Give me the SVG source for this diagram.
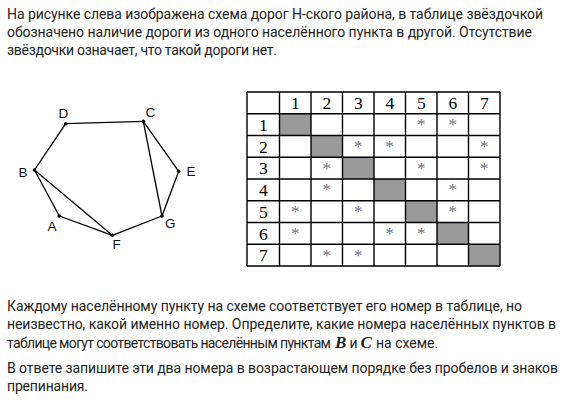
<svg xmlns="http://www.w3.org/2000/svg" width="564" height="408" viewBox="0 0 564 408">
<style>
.t{font-family:Roboto,"Noto Sans",sans-serif;font-size:14px;fill:#222}
.bi{font-family:"Liberation Serif",serif;font-size:17px;font-weight:bold;font-style:italic;fill:#222}
.lbl{font-family:"Liberation Sans",Arial,sans-serif;font-size:13.5px;fill:#111}
.edge{stroke:#000;stroke-width:1.3;fill:none}
.pt{fill:#000}
.grid{stroke:#000;stroke-width:1.4;fill:none}
.num{font-family:"Liberation Serif",serif;font-size:17.5px;fill:#000;text-anchor:middle}
.st{font-family:"Liberation Serif",serif;font-size:17px;fill:#707088;text-anchor:middle}
.g{fill:#999}
</style>
<rect width="564" height="408" fill="#fff"/>
<g id="intro">
<text class="t" x="7" y="19" textLength="536">На рисунке слева изображена схема дорог Н-ского района, в таблице звёздочкой</text>
<text class="t" x="7" y="37" textLength="525">обозначено наличие дороги из одного населённого пункта в другой. Отсутствие</text>
<text class="t" x="7" y="55" textLength="270">звёздочки означает, что такой дороги нет.</text>
</g>
<g id="connectors">
<line class="edge" x1="65.7" y1="123.7" x2="143.3" y2="121.3"/>
<line class="edge" x1="65.7" y1="123.7" x2="34.5" y2="170"/>
<line class="edge" x1="34.5" y1="170" x2="59.3" y2="216"/>
<line class="edge" x1="34.5" y1="170" x2="112.3" y2="235.3"/>
<line class="edge" x1="59.3" y1="216" x2="112.3" y2="235.3"/>
<line class="edge" x1="112.3" y1="235.3" x2="162" y2="216"/>
<line class="edge" x1="162" y1="216" x2="178.7" y2="171.3"/>
<line class="edge" x1="178.7" y1="171.3" x2="143.3" y2="121.3"/>
<line class="edge" x1="143.3" y1="121.3" x2="162" y2="216"/>
</g>
<g id="node-D"><circle class="pt" cx="65.7" cy="123.7" r="1.8"/><text class="lbl" x="58.5" y="118">D</text></g>
<g id="node-C"><circle class="pt" cx="143.3" cy="121.3" r="1.8"/><text class="lbl" x="145.5" y="117">C</text></g>
<g id="node-B"><circle class="pt" cx="34.5" cy="170" r="1.8"/><text class="lbl" x="18.5" y="176.5">B</text></g>
<g id="node-E"><circle class="pt" cx="178.7" cy="171.3" r="1.8"/><text class="lbl" x="186.5" y="175.5">E</text></g>
<g id="node-A"><circle class="pt" cx="59.3" cy="216" r="1.8"/><text class="lbl" x="47.5" y="230.5">A</text></g>
<g id="node-G"><circle class="pt" cx="162" cy="216" r="1.8"/><text class="lbl" x="165" y="228">G</text></g>
<g id="node-F"><circle class="pt" cx="112.3" cy="235.3" r="1.8"/><text class="lbl" x="112.5" y="248.5">F</text></g>
<g id="table">
<rect class="g" x="279.5" y="113.75" width="31.5" height="21.75"/>
<rect class="g" x="311" y="135.5" width="31.5" height="21.75"/>
<rect class="g" x="342.5" y="157.25" width="31.5" height="21.75"/>
<rect class="g" x="374" y="179" width="31.5" height="21.75"/>
<rect class="g" x="405.5" y="200.75" width="31.5" height="21.75"/>
<rect class="g" x="437" y="222.5" width="31.5" height="21.75"/>
<rect class="g" x="468.5" y="244.25" width="31.5" height="21.75"/>
<path class="grid" d="M247 92V266M279.5 92V266M311 92V266M342.5 92V266M374 92V266M405.5 92V266M437 92V266M468.5 92V266M500 92V266M247 92H500M247 113.75H500M247 135.5H500M247 157.25H500M247 179H500M247 200.75H500M247 222.5H500M247 244.25H500M247 266H500"/>
<text class="num" x="295.25" y="109.3">1</text>
<text class="num" x="326.75" y="109.3">2</text>
<text class="num" x="358.25" y="109.3">3</text>
<text class="num" x="389.75" y="109.3">4</text>
<text class="num" x="421.25" y="109.3">5</text>
<text class="num" x="452.75" y="109.3">6</text>
<text class="num" x="484.25" y="109.3">7</text>
<text class="num" x="263.25" y="130.8">1</text>
<text class="num" x="263.25" y="152.5">2</text>
<text class="num" x="263.25" y="174.3">3</text>
<text class="num" x="263.25" y="196">4</text>
<text class="num" x="263.25" y="217.8">5</text>
<text class="num" x="263.25" y="239.5">6</text>
<text class="num" x="263.25" y="261.3">7</text>
<text class="st" x="421.25" y="130">*</text>
<text class="st" x="452.75" y="130">*</text>
<text class="st" x="358.25" y="151.75">*</text>
<text class="st" x="389.75" y="151.75">*</text>
<text class="st" x="484.25" y="151.75">*</text>
<text class="st" x="326.75" y="173.5">*</text>
<text class="st" x="421.25" y="173.5">*</text>
<text class="st" x="484.25" y="173.5">*</text>
<text class="st" x="326.75" y="195.25">*</text>
<text class="st" x="452.75" y="195.25">*</text>
<text class="st" x="295.25" y="217">*</text>
<text class="st" x="358.25" y="217">*</text>
<text class="st" x="452.75" y="217">*</text>
<text class="st" x="295.25" y="238.75">*</text>
<text class="st" x="389.75" y="238.75">*</text>
<text class="st" x="421.25" y="238.75">*</text>
<text class="st" x="326.75" y="260.5">*</text>
<text class="st" x="358.25" y="260.5">*</text>
</g>
<g id="question">
<text class="t" x="7" y="311" textLength="515">Каждому населённому пункту на схеме соответствует его номер в таблице, но</text>
<text class="t" x="7" y="329" textLength="549">неизвестно, какой именно номер. Определите, какие номера населённых пунктов в</text>
<text class="t" y="347.5"><tspan x="7" textLength="324">таблице могут соответствовать населённым пунктам</tspan><tspan class="bi" x="335">B</tspan><tspan x="349.5">и</tspan><tspan class="bi" x="360.5">C</tspan><tspan x="372.5"> на схеме.</tspan></text>
<text class="t" x="7" y="373" textLength="551">В ответе запишите эти два номера в возрастающем порядке без пробелов и знаков</text>
<text class="t" x="7" y="391" textLength="81">препинания.</text>
</g>
</svg>
